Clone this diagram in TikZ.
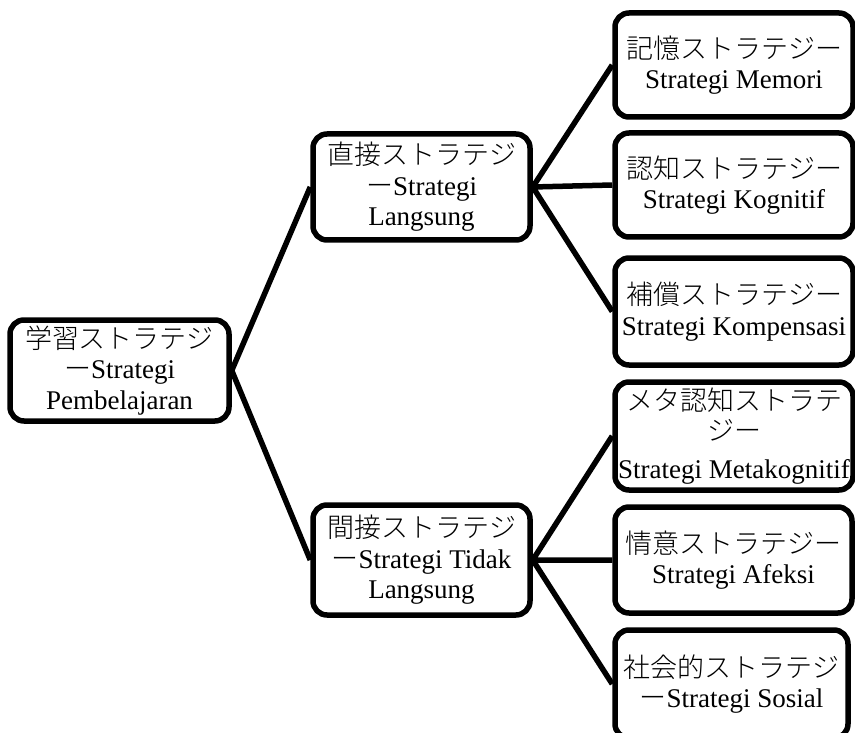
\documentclass[tikz,border=0pt]{standalone}
\usepackage{fontspec}
\setmainfont{Liberation Serif}
\newfontfamily\cjk[Scale=1.0, UprightFont={* Light}]{Noto Sans CJK JP}
\usetikzlibrary{positioning}

\begin{document}
\begin{tikzpicture}[x=1pt, y=-1pt, line width=5.5pt,
                  caja/.style={draw, rounded corners=14pt, inner sep=0pt,
                  align=center, font=\fontsize{27}{30.5}\selectfont},
                  medio/.style={caja, minimum width=217pt},
                  hoja/.style={caja, minimum width=238pt}]
                  \useasboundingbox (0,0) rectangle (855,733);

                  % Colocamos las cajas de las estrategias.
                  \node[caja, minimum width=219pt, minimum height=101pt] (raiz)
                  at (119.5,370.5) {{\cjk 学習ストラテジ}\\{\cjk ー}Strategi\\Pembelajaran};
                  \node[medio, minimum height=106pt] (directo) at (421.5,187)
                  {{\cjk 直接ストラテジ}\\{\cjk ー}Strategi\\Langsung};
                  \node[medio, minimum height=110pt] (indirecto) at (421.5,560)
                  {{\cjk 間接ストラテジ}\\{\cjk ー}Strategi Tidak\\Langsung};

                  \node[hoja, minimum height=104pt] (memoria) at (734,65)
                  {{\cjk 記憶ストラテジー}\\Strategi Memori};
                  \node[hoja, minimum height=104pt] (cognitiva) at (734,185)
                  {{\cjk 認知ストラテジー}\\Strategi Kognitif};
                  \node[hoja, minimum height=107pt] (compensa) at (734,311.5)
                  {{\cjk 補償ストラテジー}\\Strategi Kompensasi};
                  \node[hoja, minimum height=108pt] (meta) at (734,436)
                  {{\cjk メタ認知ストラテ}\\{\cjk ジー}\\[7pt]Strategi Metakognitif};
                  \node[hoja, minimum width=237pt, minimum height=106pt] (afectiva)
                  at (733.5,560) {{\cjk 情意ストラテジー}\\Strategi Afeksi};
                  \node[hoja, minimum width=233pt, minimum height=108pt] (social)
                  at (731.5,684) {{\cjk 社会的ストラテジ}\\{\cjk ー}Strategi Sosial};

                  % Dibujamos las ramas del diagrama.
                  \draw (raiz.east) -- (directo.west)
                  (raiz.east) -- (indirecto.west);
                  \draw (directo.east) -- (memoria.west)
                  (directo.east) -- (cognitiva.west)
                  (directo.east) -- (compensa.west);
                  \draw (indirecto.east) -- (meta.west)
                  (indirecto.east) -- (afectiva.west)
                  (indirecto.east) -- (social.west);

                \end{tikzpicture}
\end{document}
